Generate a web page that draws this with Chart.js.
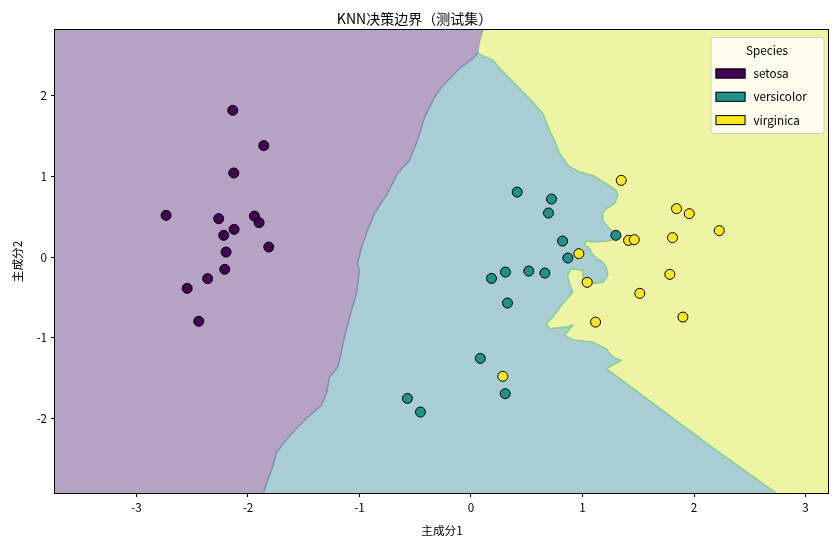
<!DOCTYPE html>
<html>
<head>
<meta charset="utf-8">
<script src="https://cdn.jsdelivr.net/npm/chart.js@4.4.0/dist/chart.umd.min.js"></script>
<style>
    html, body { margin: 0; padding: 0; background: #fff; }
    #wrap { width: 840px; height: 550px; }
</style>
</head>
<body>
<div id="wrap"><canvas id="knnChart" width="840" height="550"></canvas></div>
<script>
// ===============================
//  DATA (PCA components, test set)
// ===============================
const X_RANGE = [-3.73, 3.21];
const Y_RANGE = [-2.92, 2.81];
const X_TICKS = [-3, -2, -1, 0, 1, 2, 3];
const Y_TICKS = [-2, -1, 0, 1, 2];

const SPECIES = ["setosa", "versicolor", "virginica"];

const setosaPts = [
    [-2.136, 1.816], [-1.858, 1.379], [-2.127, 1.040], [-2.734, 0.516],
    [-2.262, 0.475], [-1.942, 0.507], [-1.900, 0.426], [-2.124, 0.343],
    [-2.217, 0.269], [-1.813, 0.124], [-2.196, 0.062], [-2.208, -0.152],
    [-2.361, -0.267], [-2.545, -0.387], [-2.441, -0.795]
];
const versicolorPts = [
    [0.414, 0.804], [0.722, 0.718], [0.695, 0.545], [0.821, 0.198],
    [1.299, 0.269], [0.868, -0.012], [0.184, -0.264], [0.309, -0.186],
    [0.518, -0.173], [0.662, -0.198], [0.327, -0.569], [0.083, -1.254],
    [0.307, -1.691], [-0.570, -1.749], [-0.453, -1.918]
];
const virginicaPts = [
    [1.347, 0.949], [1.843, 0.599], [1.957, 0.537], [2.226, 0.327],
    [1.807, 0.240], [1.413, 0.207], [1.464, 0.215], [0.967, 0.042],
    [1.042, -0.313], [1.783, -0.214], [1.514, -0.449], [1.900, -0.743],
    [1.117, -0.805], [0.285, -1.476]
];

// decision boundaries, read top to bottom
const topSplit = [[0.108, 2.81], [0.083, 2.707], [0.070, 2.624], [0.061, 2.525]];
const boundaryA = [   // setosa | versicolor
    [0.061, 2.525], [0.016, 2.459], [-0.043, 2.397], [-0.103, 2.335], [-0.265, 2.100],
    [-0.327, 1.976], [-0.417, 1.729], [-0.480, 1.444], [-0.552, 1.197], [-0.659, 1.036],
    [-0.749, 0.788], [-0.865, 0.541], [-0.928, 0.331], [-0.982, 0.120], [-1.018, -0.078],
    [-1.000, -0.164], [-1.027, -0.449], [-1.072, -0.660], [-1.135, -0.994], [-1.179, -1.278],
    [-1.197, -1.365], [-1.269, -1.489], [-1.296, -1.687], [-1.341, -1.835], [-1.466, -1.984],
    [-1.583, -2.145], [-1.673, -2.293], [-1.744, -2.417], [-1.780, -2.603], [-1.825, -2.764],
    [-1.861, -2.92]
];
const boundaryB = [   // versicolor | virginica
    [0.061, 2.525], [0.121, 2.480], [0.196, 2.438], [0.271, 2.314], [0.345, 2.212],
    [0.420, 2.109], [0.554, 1.918], [0.644, 1.775], [0.704, 1.568], [0.749, 1.444],
    [0.794, 1.280], [0.839, 1.197], [0.868, 1.135], [0.973, 1.052], [1.092, 1.011],
    [1.213, 0.908], [1.302, 0.825], [1.317, 0.764], [1.287, 0.661], [1.213, 0.599],
    [1.177, 0.537], [1.182, 0.454], [1.227, 0.371], [1.272, 0.309], [1.332, 0.256],
    [1.257, 0.207], [1.197, 0.194], [1.092, 0.186], [1.033, 0.200], [1.018, 0.157],
    [1.063, 0.108], [1.078, 0.058], [1.126, -0.016], [1.182, -0.062], [1.213, -0.124],
    [1.227, -0.226], [1.188, -0.309], [1.092, -0.329], [1.003, -0.288], [1.003, -0.165],
    [0.899, -0.144], [0.865, -0.226], [0.883, -0.329], [0.913, -0.433], [0.823, -0.577],
    [0.734, -0.743], [0.674, -0.824], [0.704, -0.886], [0.854, -0.866], [0.913, -0.845],
    [0.839, -0.969], [0.913, -1.022], [1.092, -1.052], [1.213, -1.134], [1.272, -1.238],
    [1.347, -1.279], [1.213, -1.381], [2.199, -2.392], [2.737, -2.92]
];

// ===============================
//  COLOURS
// ===============================
const FONT = "'Noto Sans CJK SC', 'Microsoft YaHei', sans-serif";
const SPECIES_COLOURS = ["#440154", "#21918c", "#fde725"];
const REGION_COLOURS = ["#b6a3c4", "#a8cdd2", "#eff3a4"];

const toXY = pts => pts.map(([x, y]) => ({ x, y }));

// region polygons built from the boundaries + axis limits
const [xmin, xmax] = X_RANGE;
const [ymin, ymax] = Y_RANGE;
const fullRect = [[xmin, ymax], [xmax, ymax], [xmax, ymin], [xmin, ymin]];
const rightOfA = [...topSplit, ...boundaryA.slice(1), [xmax, ymin], [xmax, ymax]];
const rightOfB = [...topSplit, ...boundaryB.slice(1), [xmax, ymin], [xmax, ymax]];

function regionSet(pts, colour, order) {
    return {
        data: toXY(pts), showLine: true, fill: 'shape', tension: 0,
        backgroundColor: colour, borderColor: 'rgba(0,0,0,0)', borderWidth: 0,
        pointRadius: 0, order
    };
}
function edgeSet(pts, colour) {
    return {
        data: toXY(pts), showLine: true, fill: false, tension: 0,
        borderColor: colour, borderWidth: 1.4, pointRadius: 0, order: 1
    };
}
function pointSet(pts, i) {
    return {
        label: SPECIES[i], data: toXY(pts), showLine: false,
        pointRadius: 5, pointBackgroundColor: SPECIES_COLOURS[i],
        pointBorderColor: "#000", pointBorderWidth: 1, order: 0
    };
}

// ===============================
//  AXES FRAME + LEGEND INSIDE PLOT
// ===============================
function drawFrame(chart) {
    const { ctx, chartArea: a } = chart;
    const l = Math.round(a.left), t = Math.round(a.top);
    const r = Math.round(a.right), b = Math.round(a.bottom);
    ctx.save();
    ctx.fillStyle = '#000';
    ctx.fillRect(l - 1, t - 1, r - l + 1, 1);   // top
    ctx.fillRect(l - 1, b, r - l + 1, 1);       // bottom
    ctx.fillRect(l - 1, t - 1, 1, b - t + 2);   // left
    ctx.fillRect(r - 1, t - 1, 1, b - t + 2);   // right
    ctx.restore();
}

function drawLegend(chart) {
    const { ctx, chartArea: a } = chart;
    const w = 113, h = 96;
    const left = a.right - 5.5 - w, top = a.top + 7;
    ctx.save();
    ctx.beginPath();
    ctx.roundRect(left + 0.5, top + 0.5, w, h, 3);
    ctx.fillStyle = 'rgba(255,255,255,0.8)';
    ctx.fill();
    ctx.strokeStyle = '#d0d0d0';
    ctx.lineWidth = 1;
    ctx.stroke();

    ctx.font = `11.7px ${FONT}`;
    ctx.textBaseline = 'middle';
    ctx.fillStyle = '#000';
    ctx.textAlign = 'center';
    ctx.fillText('Species', left + w / 2, top + 14);
    ctx.textAlign = 'left';
    SPECIES.forEach((name, i) => {
        const cy = top + 36.5 + i * 23.3;
        ctx.fillStyle = SPECIES_COLOURS[i];
        ctx.fillRect(left + 5, cy - 5, 30, 10);
        ctx.strokeStyle = '#000';
        ctx.strokeRect(left + 5.5, cy - 4.5, 29, 9);
        ctx.fillStyle = '#000';
        ctx.fillText(name, left + 43, cy);
    });
    ctx.restore();
}

const overlay = {
    id: 'overlay',
    afterDraw(chart) {
        drawFrame(chart);
        drawLegend(chart);
    }
};

// ===============================
//  CHART
// ===============================
Chart.defaults.font.family = FONT;
Chart.defaults.color = '#000';

const tickFont = { family: FONT, size: 11.7 };

new Chart(document.getElementById('knnChart'), {
    type: 'scatter',
    data: {
        datasets: [
            regionSet(fullRect, REGION_COLOURS[0], 4),
            regionSet(rightOfA, REGION_COLOURS[1], 3),
            regionSet(rightOfB, REGION_COLOURS[2], 2),
            edgeSet(boundaryA, '#7b8db5'),
            edgeSet(topSplit, '#86b8a0'),
            edgeSet(boundaryB, '#86cf8a'),
            pointSet(setosaPts, 0),
            pointSet(versicolorPts, 1),
            pointSet(virginicaPts, 2)
        ]
    },
    options: {
        responsive: false,
        animation: false,
        events: [],
        layout: { padding: { left: 0, right: 11, top: 0, bottom: 0 } },
        plugins: {
            legend: { display: false },
            tooltip: { enabled: false },
            title: {
                display: true, text: 'KNN决策边界（测试集）', color: '#000',
                font: { family: FONT, size: 14, weight: 'normal' },
                padding: { top: 10, bottom: 3.2 }
            }
        },
        scales: {
            x: {
                type: 'linear', position: 'bottom', min: xmin, max: xmax,
                afterBuildTicks: s => { s.ticks = X_TICKS.map(v => ({ value: v })); },
                ticks: { font: tickFont, color: '#000', padding: 4, callback: v => String(v) },
                grid: { drawOnChartArea: false, tickLength: 4, tickColor: '#000', tickWidth: 1 },
                border: { display: false },
                title: { display: true, text: '主成分1', font: tickFont, color: '#000', padding: { top: 0, bottom: 12 } },
                afterFit: s => { s.height = 57; }
            },
            y: {
                type: 'linear', position: 'left', min: ymin, max: ymax,
                afterBuildTicks: s => { s.ticks = Y_TICKS.map(v => ({ value: v })); },
                ticks: { font: tickFont, color: '#000', padding: 4, callback: v => String(v) },
                grid: { drawOnChartArea: false, tickLength: 4, tickColor: '#000', tickWidth: 1 },
                border: { display: false },
                title: { display: true, text: '主成分2', font: tickFont, color: '#000', padding: { top: 11, bottom: 0 } },
                afterFit: s => { s.width = 55; }
            }
        }
    },
    plugins: [overlay]
});
</script>
</body>
</html>
